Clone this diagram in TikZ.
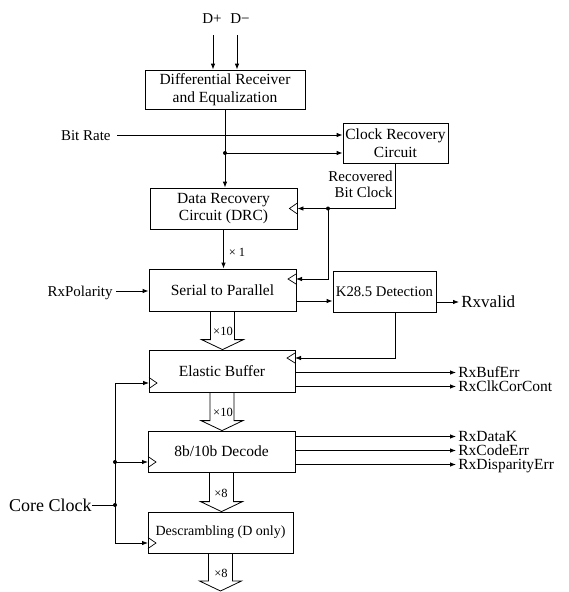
\documentclass[tikz,border=0pt]{standalone}
\usepackage{fontspec}
\setmainfont{Liberation Serif}
\usetikzlibrary{arrows.meta,calc}
\newcommand\fatarr[2]{\draw[fat] let \p1=(#1), \p2=(#2) in (\x1-12pt,\y1) -- (\x1-12pt,\y2+10pt) -- (\x1-21pt,\y2+10pt) -- (\x1,\y2) -- (\x1+21pt,\y2+10pt) -- (\x1+12pt,\y2+10pt) -- (\x1+12pt,\y1);}
\begin{document}
\begin{tikzpicture}[x=1pt,y=-1pt,line width=0.8pt,
  box/.style={draw,inner sep=0pt,align=center,font=\fontsize{15.5}{17.5}\selectfont},
  arr/.style={-{Latex[length=6pt,width=4.5pt]}},
  lbl/.style={inner sep=0pt,font=\fontsize{15}{16}\selectfont,text height=10pt,text depth=0pt},
  outl/.style={inner sep=0pt,anchor=west,font=\fontsize{15.5}{16}\selectfont,text height=10.5pt,text depth=0pt},
  small/.style={inner sep=0pt,font=\fontsize{12.5}{14}\selectfont,text height=8pt,text depth=0pt},
  dot/.style={circle,fill,inner sep=0pt,minimum size=4pt},
  fat/.style={draw,line width=0.8pt,line join=miter},
  clk/.style={line width=0.7pt}
]
\useasboundingbox (0,0) rectangle (569,592);

% boxes
\node[box,minimum width=160,minimum height=39] (drx) at (225,89.5) {Differential Receiver\\and Equalization};
\node[box,minimum width=105,minimum height=40] (crc) at (395.5,143) {Clock Recovery\\Circuit};
\node[box,minimum width=147,minimum height=41] (drc) at (223.5,208.5) {Data Recovery\\Circuit (DRC)};
\node[box,minimum width=147,minimum height=42] (sp) at (222.5,290) {Serial to Parallel};
\node[box,minimum width=103,minimum height=41,font=\fontsize{14.7}{16}\selectfont] (k28) at (384.5,291.5) {K28.5 Detection};
\node[box,minimum width=146,minimum height=42] (eb) at (222,371) {Elastic Buffer};
\node[box,minimum width=147,minimum height=41] (dec) at (221.5,451.5) {8b/10b Decode};
\node[box,minimum width=145,minimum height=41,font=\fontsize{14}{16}\selectfont] (desc) at (220.5,532.5) {\raisebox{-4pt}{Descrambling (D only)}};

% D+ D-
\node[lbl] (dp) at (212,18) {D+};
\node[lbl] (dm) at (240,18) {D−};
\coordinate (dps) at (213,35);
\coordinate (dms) at (237,35);
\draw[arr] (dps) -- (dps |- drx.north);
\draw[arr] (dms) -- (dms |- drx.north);

% receiver to DRC and clock recovery
\coordinate (j1) at (225,153);
\draw[arr] (drx.south) -- (drx.south |- drc.north);
\draw[arr] (j1) -- (j1 -| crc.west);
\node[dot] at (j1) {};
\node[lbl,anchor=east] (br) at (111,135) {Bit Rate};
\draw[arr,shorten <=6pt] (br.east) -- (br.east -| crc.west);

% recovered clock
\coordinate (j2) at (328,208.5);
\coordinate (spclk) at (296,279);
\draw[arr] (crc.south) |- (drc.east);
\draw[arr] (j2) |- (spclk);
\node[dot] at (j2) {};
\node[lbl,anchor=east,align=right,font=\fontsize{15}{15.5}\selectfont] (rbc) at (393,192) {Recovered\\Bit Clock};

% DRC to S/P
\draw[arr] (drc.south) -- (drc.south |- sp.north);
\node[small] (x1) at (237,252) {× 1};

% RxPolarity
\node[lbl,anchor=east] (rxp) at (113,291) {RxPolarity};
\draw[arr,shorten <=3pt] (rxp.east) -- (rxp.east -| sp.west);

% S/P to K28.5
\coordinate (spo) at (296,301);
\draw[arr] (spo) -- (spo -| k28.west);
\node[outl,font=\fontsize{17}{17}\selectfont,text height=11pt] (rxv) at (461,302) {Rxvalid};
\draw[arr,shorten >=2pt] (rxv.west -| k28.east) -- (rxv.west);
\coordinate (ebclk) at (295,358);
\draw[arr] ([xshift=10.5pt]k28.south) |- (ebclk);

% fat arrows
\fatarr{sp.south}{eb.north}
\node[small] (x10a) at (223,331) {×10};
\fatarr{eb.south}{dec.north}
\node[small] (x10b) at (223,412) {×10};
\fatarr{dec.south}{desc.north}
\node[small] (x8a) at (221,493) {×8};
\coordinate (out) at (220.5,591);
\fatarr{desc.south}{out}
\node[small] (x8b) at (221,573) {×8};

% core clock
\node[lbl,anchor=east,font=\fontsize{18}{18}\selectfont,text height=12pt] (cc) at (92,505) {Core Clock};
\coordinate (j3) at (115,505);
\coordinate (j4) at (115,462);
\coordinate (ebck) at (149,383);
\coordinate (decck) at (148,462);
\coordinate (descck) at (148,543);
\draw (cc.east) -- (j3);
\draw[arr] (j3) |- (ebck);
\draw[arr] (j3) |- (descck);
\draw[arr] (j4) -- (decck);
\node[dot] at (j3) {};
\node[dot] at (j4) {};

% clock markers
\draw[clk] (drc.east) ++(0,-5.5) -- ++(-8,5.5) -- ++(8,5.5);
\draw[clk] (spclk) ++(0,-5) -- ++(-8,5) -- ++(8,5);
\draw[clk] (ebclk) ++(0,-5) -- ++(-8,5) -- ++(8,5);
\draw[clk] (ebck) ++(0,-5.5) -- ++(8,5.5) -- ++(-8,5.5);
\draw[clk] (decck) ++(0,-5.5) -- ++(8,5.5) -- ++(-8,5.5);
\draw[clk] (descck) ++(0,-5.5) -- ++(8,5.5) -- ++(-8,5.5);

% elastic buffer outputs
\coordinate (ebo1) at (295,372.5);
\coordinate (ebo2) at (295,386.5);
\node[outl] (rbe) at (458,372.5) {RxBufErr};
\node[outl] (rcc) at (458,386.5) {RxClkCorCont};
\draw[arr,shorten >=2pt] (ebo1) -- (rbe.west);
\draw[arr,shorten >=2pt] (ebo2) -- (rcc.west);

% decoder outputs
\coordinate (deo1) at (295,436.5);
\coordinate (deo2) at (295,450.5);
\coordinate (deo3) at (295,464.5);
\node[outl] (rdk) at (458,436.5) {RxDataK};
\node[outl] (rce) at (458,450.5) {RxCodeErr};
\node[outl] (rde) at (458,464.5) {RxDisparityErr};
\draw[arr,shorten >=2pt] (deo1) -- (rdk.west);
\draw[arr,shorten >=2pt] (deo2) -- (rce.west);
\draw[arr,shorten >=2pt] (deo3) -- (rde.west);
\end{tikzpicture}
\end{document}
